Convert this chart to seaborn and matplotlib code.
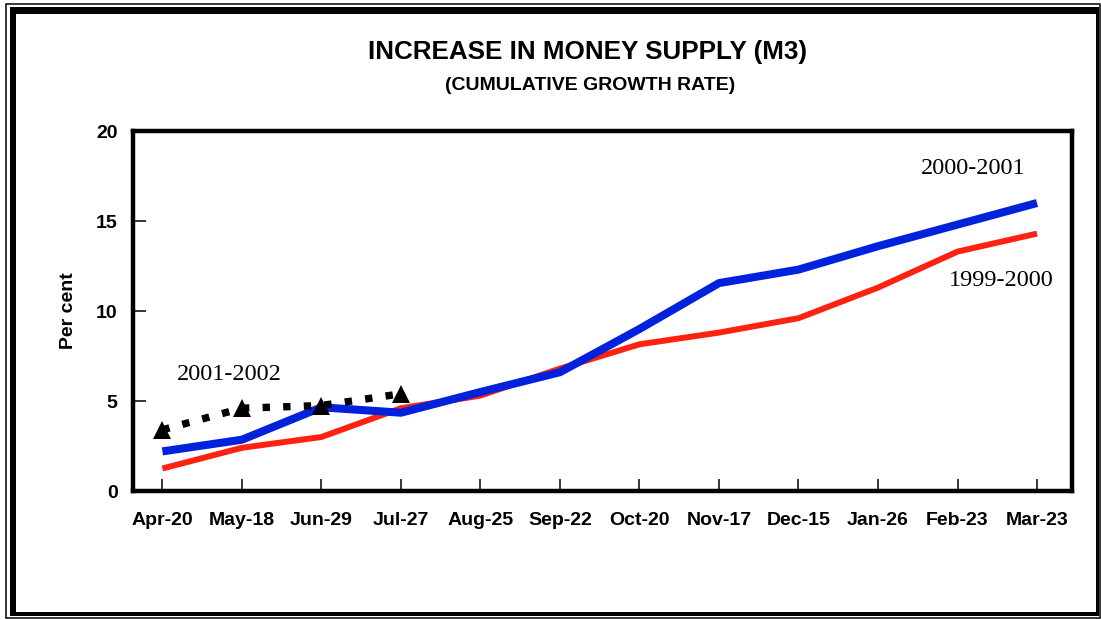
import matplotlib
matplotlib.use("Agg")
import numpy as np
import pandas as pd
import matplotlib.pyplot as plt
import seaborn as sns
from matplotlib.patches import Rectangle

# ── Data ──────────────────────────────────────────────────────────────────────
DATES      = ["Apr-20", "May-18", "Jun-29", "Jul-27", "Aug-25", "Sep-22",
              "Oct-20", "Nov-17", "Dec-15", "Jan-26", "Feb-23", "Mar-23"]
Y_1999_00  = [1.25, 2.4, 3.0, 4.6, 5.3, 6.8, 8.15, 8.8, 9.6, 11.3, 13.3, 14.3]
Y_2000_01  = [2.2, 2.85, 4.65, 4.35, 5.5, 6.6, 9.0, 11.55, 12.3, 13.6, 14.8, 16.0]
Y_2001_02  = [3.4, 4.6, 4.75, 5.4]
Y_TICKS    = [0, 5, 10, 15, 20]

W, H = 1101, 619

sns.set_theme(style="white")
plt.rcParams["font.family"] = ["Liberation Sans", "DejaVu Sans"]
plt.rcParams["text.color"] = "black"
plt.rcParams["axes.labelcolor"] = "black"

fig = plt.figure(figsize=(W / 100, H / 100), dpi=100)
ax = fig.add_axes([133 / W, 1 - 491 / H, (1072 - 133) / W, (491 - 131) / H])

x_all = np.arange(len(DATES))
df_a = pd.DataFrame({"x": x_all, "y": Y_1999_00})
df_b = pd.DataFrame({"x": x_all, "y": Y_2000_01})
df_c = pd.DataFrame({"x": x_all[:len(Y_2001_02)], "y": Y_2001_02})

sns.lineplot(data=df_a, x="x", y="y", ax=ax, color="#ff2211", linewidth=4.3,
             solid_capstyle="butt", zorder=3)
sns.lineplot(data=df_b, x="x", y="y", ax=ax, color="#0022dd", linewidth=5.8,
             solid_capstyle="butt", zorder=4)
sns.lineplot(data=df_c, x="x", y="y", ax=ax, color="black", linewidth=5.3,
             linestyle=(0, (1, 1.8)), dash_capstyle="butt", marker="^",
             markersize=13, markeredgewidth=0, zorder=5)

ax.set_xlim(-0.37, 11.44)
ax.set_ylim(0, 20)
ax.set_xticks(x_all)
ax.set_xticklabels(DATES)
ax.set_yticks(Y_TICKS)
ax.set_xlabel("")
ax.set_ylabel("Per cent", fontsize=14, fontweight="bold", labelpad=14,
              color="black")
ax.tick_params(axis="both", direction="in", length=9, width=1.1, color="black",
               labelsize=14, labelcolor="black")
ax.tick_params(axis="x", pad=15, bottom=True)
ax.tick_params(axis="y", pad=11, left=True)
for lab in ax.get_xticklabels() + ax.get_yticklabels():
    lab.set_fontweight("bold")
for sp in ax.spines.values():
    sp.set_visible(True)
    sp.set_color("black")
    sp.set_linewidth(3.2)

# Series labels
for txt, xx, yy in [("2001-2002", 0.84, 6.45),
                    ("2000-2001", 10.2, 17.9),
                    ("1999-2000", 10.55, 11.7)]:
    ax.text(xx, yy, txt, family="Liberation Serif", fontsize=17.5,
            ha="center", va="center", color="black")

# Titles
fig.text(588 / W, 1 - 52 / H, "INCREASE IN MONEY SUPPLY (M3)", fontsize=18.7,
         fontweight="bold", ha="center", va="center", color="black")
fig.text(590 / W, 1 - 85 / H, "(CUMULATIVE GROWTH RATE)", fontsize=14,
         fontweight="bold", ha="center", va="center", color="black")

# Frame (thin outer line + heavy inner border)
def px_rect(x0, y0, x1, y1, **kw):
    fig.patches.append(Rectangle((x0 / W, 1 - y1 / H), (x1 - x0) / W, (y1 - y0) / H,
                                 transform=fig.transFigure, figure=fig, **kw))

px_rect(6.5, 3.5, 1100, 617.5, fill=False, edgecolor="black", linewidth=1.1)
px_rect(10, 7, 1099, 14, facecolor="black", edgecolor="none")     # top
px_rect(10, 7, 16, 616, facecolor="black", edgecolor="none")      # left
px_rect(1096, 7, 1099, 616, facecolor="black", edgecolor="none")  # right
px_rect(10, 612, 1099, 616, facecolor="black", edgecolor="none")  # bottom

fig.savefig("out.png", dpi=100)
